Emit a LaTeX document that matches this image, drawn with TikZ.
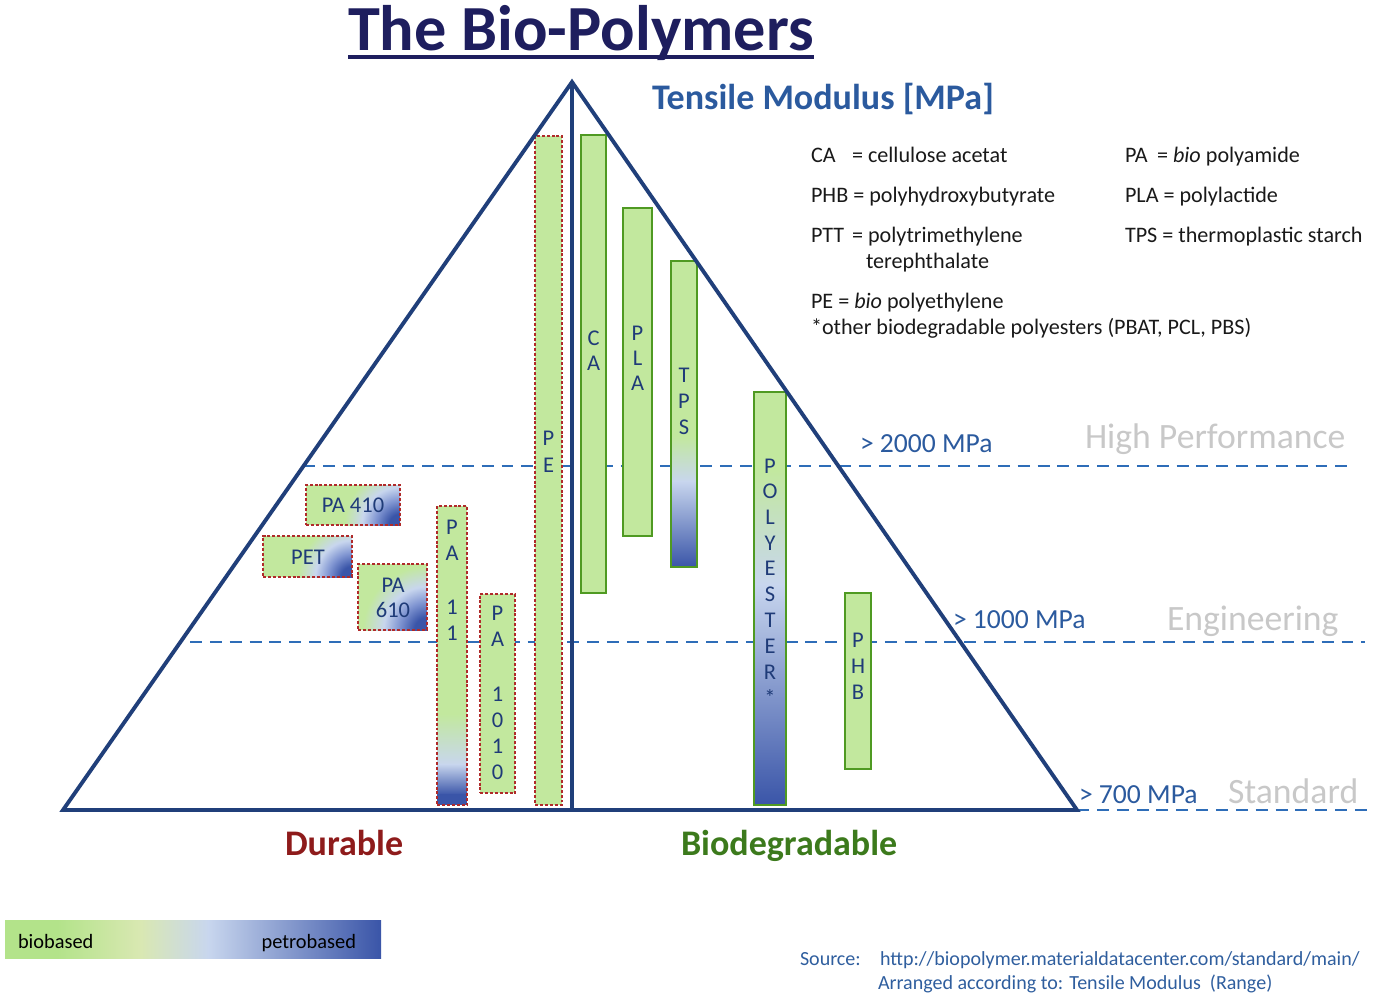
\documentclass[tikz,border=0pt]{standalone}
\usepackage{fontspec}
\setmainfont{Carlito}
\usetikzlibrary{fit}
\definecolor{navy}{HTML}{203F7A}
\definecolor{dashblue}{HTML}{2E6DB8}
\definecolor{mpablue}{HTML}{2B5A9E}
\definecolor{titlenavy}{HTML}{1E1E5E}
\definecolor{graylbl}{HTML}{C8C8C8}
\definecolor{durred}{HTML}{8E1B1B}
\definecolor{biogreen}{HTML}{3C7A1C}
\definecolor{bargreen}{HTML}{C2E89E}
\definecolor{bordergreen}{HTML}{4F9A22}
\definecolor{borderred}{HTML}{B02A2A}
\definecolor{lettblue}{HTML}{1F3B78}
\definecolor{dkb}{HTML}{3A55A8}
\definecolor{ltb}{HTML}{C8D6EE}
\definecolor{midb}{HTML}{8196D2}
\definecolor{yelg}{HTML}{D9E8B2}
\definecolor{legg}{HTML}{B3E38A}
\definecolor{srcblue}{HTML}{2F5E9E}
\pgfdeclareradialshading{cornerblue}{\pgfpoint{0bp}{0bp}}{color(0bp)=(dkb); color(5bp)=(dkb); color(11bp)=(midb); color(17bp)=(ltb); color(25bp)=(bargreen); color(50bp)=(bargreen)}
\pgfdeclarehorizontalshading{legshade}{100bp}{color(0bp)=(legg); color(25bp)=(legg); color(32bp)=(legg); color(43bp)=(yelg); color(52bp)=(ltb); color(75bp)=(dkb); color(100bp)=(dkb)}
\newcommand\titlefont{\fontsize{36.6}{40}\bfseries\selectfont}
\newcommand\headfont{\fontsize{20.5}{24}\bfseries\selectfont}
\newcommand\legfont{\fontsize{12.6}{15}\selectfont}
\newcommand\mpafont{\fontsize{15.7}{18}\selectfont}
\newcommand\grayfont{\fontsize{20.3}{24}\selectfont}
\newcommand\ltfont{\fontsize{12.8}{15}\selectfont}
\newcommand\smallfont{\fontsize{11.6}{14}\selectfont}
\newcommand\srcfont{\fontsize{11.4}{14}\selectfont}
\newcommand\vletters[3]{\foreach \c/\yy [count=\i] in {#3} \node[lt] (#1-\i) at (#2,\yy+7) {\c};}
\begin{document}
\begin{tikzpicture}[x=0.02cm,y=-0.02cm,
  txt/.style={inner sep=0pt, outer sep=0pt, anchor=base west},
  tri/.style={draw=navy, line width=2.2pt, line join=miter},
  lvl/.style={draw=dashblue, line width=1.5pt, dash pattern=on 6.8pt off 4.5pt},
  gbar/.style={draw=bordergreen, line width=1.1pt, inner sep=0pt, outer sep=0pt},
  rbar/.style={draw=borderred, line width=1.1pt, dash pattern=on 1.7pt off 1.1pt, inner sep=0pt, outer sep=0pt},
  lt/.style={font=\ltfont, text=lettblue, inner sep=0pt, anchor=base},
  leg/.style={txt, font=\legfont, text=black!90},
  mpa/.style={txt, font=\mpafont, text=mpablue},
  grl/.style={txt, font=\grayfont, text=graylbl}]
\useasboundingbox (0,0) rectangle (1375,997);
% title
\node[txt, font=\titlefont, text=titlenavy] (title) at (348,51) {The Bio-Polymers};
\draw[titlenavy, line width=2.2pt] ([yshift=-6*0.02cm]title.base west) coordinate (ul1) -- ([yshift=-6*0.02cm]title.base east) coordinate (ul2);
\node[txt, font=\headfont, text=mpablue] (tensile) at (652,110) {Tensile Modulus [MPa]};
% level lines
\coordinate (l2a) at (303,466); \coordinate (l2b) at (1347,466);
\coordinate (l1a) at (190,642); \coordinate (l1b) at (1365,642);
\coordinate (l0a) at (1077,810); \coordinate (l0b) at (1372,810);
\draw[lvl] (l2a) -- (l2b);
\draw[lvl] (l1a) -- (l1b);
\draw[lvl] (l0a) -- (l0b);
% bars: biodegradable side
\fill[bargreen] (581,135) rectangle (606,593);
\node[gbar, fit={(581,135) (606,593)}] (ca) {};
\fill[bargreen] (623,208) rectangle (652,536);
\node[gbar, fit={(623,208) (652,536)}] (pla) {};
\fill[bargreen] (671,261) rectangle (697,437);
\shade[top color=bargreen, bottom color=ltb] (671,436) rectangle (697,482);
\shade[top color=ltb, bottom color=dkb] (671,481) rectangle (697,567);
\node[gbar, fit={(671,261) (697,567)}] (tps) {};
\fill[bargreen] (754,392) rectangle (786,470);
\shade[top color=bargreen, bottom color=ltb] (754,469) rectangle (786,585);
\shade[top color=ltb, bottom color=dkb] (754,584) rectangle (786,805);
\node[gbar, fit={(754,392) (786,805)}] (poly) {};
\fill[bargreen] (845,593) rectangle (871,769);
\node[gbar, fit={(845,593) (871,769)}] (phb) {};
% bars: durable side
\fill[bargreen] (535,136) rectangle (562,805);
\node[rbar, fit={(535,136) (562,805)}] (pe) {};
\fill[bargreen] (437,506) rectangle (467,715);
\shade[top color=bargreen, bottom color=ltb] (437,714) rectangle (467,765);
\shade[top color=ltb, bottom color=dkb] (437,764) rectangle (467,795);
\fill[dkb] (437,794) rectangle (467,805);
\node[rbar, fit={(437,506) (467,805)}] (pa11) {};
\fill[bargreen] (480,594) rectangle (515,793);
\node[rbar, fit={(480,594) (515,793)}] (pa1010) {};
% small boxes with corner shading
\begin{scope}
\clip (306,485) rectangle (400,525);
\fill[bargreen] (306,485) rectangle (400,525);
\shade[shading=cornerblue] (400,525) circle (56);
\end{scope}
\node[rbar, fit={(306,485) (400,525)}] (pa410) {};
\begin{scope}
\clip (263,536) rectangle (352,577);
\fill[bargreen] (263,536) rectangle (352,577);
\shade[shading=cornerblue] (352,577) circle (54);
\end{scope}
\node[rbar, fit={(263,536) (352,577)}] (pet) {};
\begin{scope}
\clip (358,564) rectangle (427,630);
\fill[bargreen] (358,564) rectangle (427,630);
\shade[shading=cornerblue] (427,630) circle (64);
\end{scope}
\node[rbar, fit={(358,564) (427,630)}] (pa610) {};
% letters
\vletters{pel}{548.5}{P/438,E/465}
\vletters{cal}{593.5}{C/338,A/363}
\vletters{plal}{637.5}{P/333,L/358,A/383}
\vletters{tpsl}{684}{T/375,P/401,S/427}
\vletters{polyl}{770}{P/466,O/491,L/517,Y/543,E/568,S/594,T/620,E/646,R/672,*/698}
\vletters{phbl}{858}{P/640,H/666,B/692}
\vletters{pa11l}{452}{P/527,A/553,1/607,1/633}
\vletters{pa1010l}{497.5}{P/613,A/639,1/694,0/720,1/746,0/772}
\node[lt] (pa410t) at (353,512) {PA 410};
\node[lt] (pett) at (308,564) {PET};
\node[lt] (pa610a) at (393,592) {PA};
\node[lt] (pa610b) at (393,617) {610};
% triangle
\coordinate (apex) at (572,82);
\coordinate (bl) at (63,810);
\coordinate (br) at (1077,810);
\coordinate (bm) at (572,810);
\draw[tri] (bl) -- (apex) -- (br) -- cycle;
\draw[tri] (apex) -- (bm);
% level labels
\node[mpa] (m2000) at (860,452) {> 2000 MPa};
\node[mpa] (m1000) at (953,628) {> 1000 MPa};
\node[mpa] (m700) at (1079,803) {> 700 MPa};
\node[grl] (hp) at (1085,448) {High Performance};
\node[grl] (eng) at (1167,630) {Engineering};
\node[grl] (std) at (1228,803) {Standard};
% legend of abbreviations
\node[leg] (k1) at (811,162) {CA};
\node[leg] (k1b) at (852,162) {= cellulose acetat};
\node[leg] (k2) at (811,202) {PHB = polyhydroxybutyrate};
\node[leg] (k3) at (811,242) {PTT};
\node[leg] (k3b) at (852,242) {= polytrimethylene};
\node[leg] (k3c) at (866,268) {terephthalate};
\node[leg] (k4) at (811,308) {PE = \textit{bio} polyethylene};
\node[leg] (k5) at (811,334) {*other biodegradable polyesters (PBAT, PCL, PBS)};
\node[leg] (r1) at (1125,162) {PA};
\node[leg] (r1b) at (1157,162) {= \textit{bio} polyamide};
\node[leg] (r2) at (1125,202) {PLA = polylactide};
\node[leg] (r3) at (1125,242) {TPS = thermoplastic starch};
% bottom labels
\node[txt, font=\headfont, text=durred] (durable) at (285,855) {Durable};
\node[txt, font=\headfont, text=biogreen] (biodeg) at (681,855) {Biodegradable};
% colour legend bar
\shade[shading=legshade] (5,920) rectangle (381,958);
\node[txt, font=\smallfont, text=black] (bio) at (18,948) {biobased};
\node[txt, font=\smallfont, text=black, anchor=base east] (petro) at (356,948) {petrobased};
% source
\node[txt, font=\srcfont, text=srcblue] (src) at (800,965) {Source:};
\node[txt, font=\srcfont, text=srcblue] (url) at (880,965) {http://biopolymer.materialdatacenter.com/standard/main/};
\node[txt, font=\srcfont, text=srcblue] (arr) at (878,989) {Arranged according to: Tensile Modulus\ \ (Range)};
\end{tikzpicture}
\end{document}
